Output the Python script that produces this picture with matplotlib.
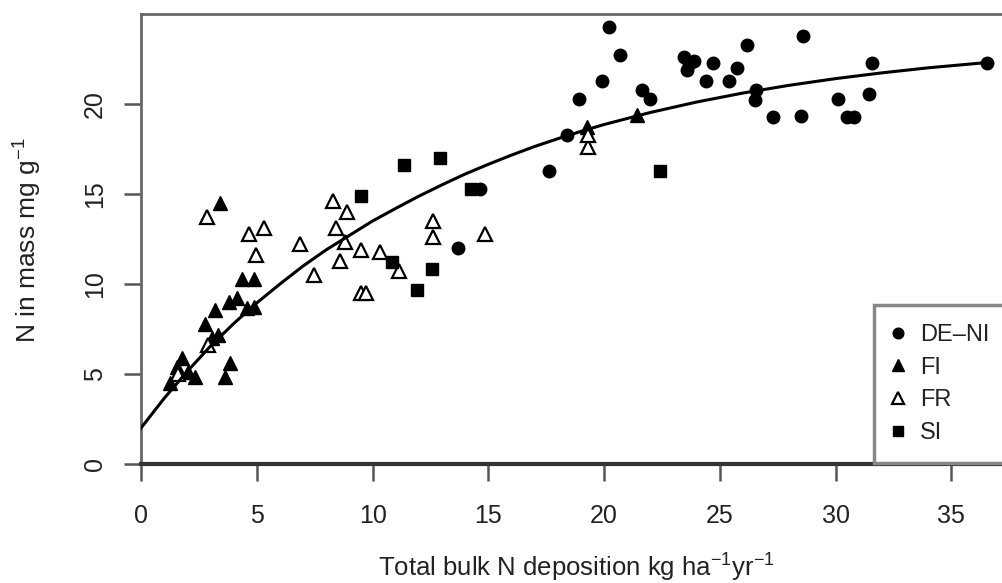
import numpy as np
import matplotlib
matplotlib.use("Agg")
import matplotlib.pyplot as plt

plt.rcParams['font.family'] = ['Liberation Sans', 'DejaVu Sans']
plt.rcParams['mathtext.fontset'] = 'custom'
plt.rcParams['mathtext.rm'] = 'Liberation Sans'
plt.rcParams['mathtext.it'] = 'Liberation Sans:italic'

# DE-NI (filled circles)
deni_x = [13.7, 14.65, 17.6, 18.4, 18.9, 19.9, 20.2, 20.7, 21.65, 22.0, 23.45, 23.6, 23.65, 23.9,
          24.4, 24.7, 25.4, 25.75, 26.15, 26.55, 26.5, 27.3, 28.5, 28.6, 30.1, 30.5, 30.8,
          31.45, 31.55, 36.55]
deni_y = [12.0, 15.25, 16.25, 18.3, 20.3, 21.3, 24.3, 22.7, 20.8, 20.3, 22.6, 21.9, 22.2, 22.4,
          21.3, 22.3, 21.3, 22.0, 23.3, 20.8, 20.2, 19.3, 19.35, 23.8, 20.3, 19.3, 19.3,
          20.55, 22.3, 22.3]

# FI (filled triangles)
fi_x = [1.25, 1.54, 1.76, 2.05, 2.33, 2.77, 3.06, 3.34, 3.2, 3.78, 4.14, 4.57, 4.86, 3.4,
        3.63, 3.85, 4.35, 4.86, 19.25, 21.4]
fi_y = [4.48, 5.4, 5.87, 5.13, 4.85, 7.8, 6.98, 7.17, 8.55, 9.0, 9.2, 8.65, 8.74, 14.5,
        4.85, 5.6, 10.3, 10.3, 18.7, 19.4]

# FR (open triangles)
fr_x = [1.6, 2.85, 2.91, 4.65, 5.3, 4.95, 6.85, 7.45, 8.3, 8.9, 8.4, 8.8, 8.6, 9.5, 10.3,
        11.15, 9.5, 9.7, 12.6, 12.6, 14.85, 19.3, 19.3]
fr_y = [5.0, 13.7, 6.6, 12.8, 13.1, 11.6, 12.25, 10.5, 14.6, 14.0, 13.1, 12.35, 11.3, 11.9, 11.8,
        10.7, 9.5, 9.5, 13.5, 12.6, 12.8, 17.6, 18.3]

# SI (filled squares)
si_x = [9.5, 11.35, 12.9, 14.25, 10.85, 12.55, 11.9, 22.4]
si_y = [14.9, 16.6, 17.0, 15.3, 11.25, 10.85, 9.65, 16.3]

# fitted curve
fit_x = [0, 1, 2, 3, 4, 5, 6, 7, 8, 9, 10, 11, 12, 13, 14, 15, 16, 17, 18, 19, 20,
         22, 24, 26, 28, 30, 32, 34, 36.5]
fit_y = [2.0, 3.65, 5.15, 6.55, 7.8, 8.95, 10.0, 11.0, 11.9, 12.7, 13.5, 14.2, 14.88, 15.51,
         16.11, 16.65, 17.16, 17.64, 18.07, 18.48, 18.86, 19.53, 20.11, 20.61, 21.04, 21.41,
         21.73, 22.01, 22.3]

xticks = [0, 5, 10, 15, 20, 25, 30, 35]
yticks = [0, 5, 10, 15, 20]

fig = plt.figure(figsize=(10.03, 5.83), dpi=100)
ax = fig.add_axes([0.1406, 0.2041, 0.868, 0.7719])

ax.plot(deni_x, deni_y, 'o', ms=9, color='black', label='DE\u2013NI', zorder=3)
ax.plot(fi_x, fi_y, '^', ms=10, color='black', label='FI', zorder=3)
ax.plot(fr_x, fr_y, '^', ms=10, mfc='white', mec='black', mew=1.6, label='FR', zorder=3)
ax.plot(si_x, si_y, 's', ms=8.5, color='black', label='SI', zorder=3)
ax.plot(fit_x, fit_y, '-', color='black', lw=2.2, zorder=4)

ax.set_xlim(0, 37.6)
ax.set_ylim(0, 25)
ax.set_xticks(xticks)
ax.set_yticks(yticks)

for s in ['left', 'top', 'right']:
    ax.spines[s].set_color('#666666')
    ax.spines[s].set_linewidth(2)
ax.spines['bottom'].set_color('#333333')
ax.spines['bottom'].set_linewidth(3)

ax.tick_params(axis='both', direction='out', length=12.5, width=1.8, color='#555555',
               labelsize=18, labelcolor='#222222')
ax.tick_params(axis='x', pad=16)
ax.tick_params(axis='y', pad=12, labelrotation=90)
for lab in ax.get_yticklabels():
    lab.set_va('center')

fig.text(576 / 1003, 1 - 568 / 583, 'Total bulk N deposition kg ha$^{-1}$yr$^{-1}$',
         ha='center', va='center', fontsize=18.5, color='#222222')
fig.text(28 / 1003, 1 - 240 / 583, 'N in mass mg g$^{-1}$', rotation=90,
         ha='center', va='center', fontsize=19, color='#222222')

leg = ax.legend(loc='upper left', bbox_to_anchor=(0.8414, 0.3533), borderaxespad=0,
                fancybox=False, framealpha=1, edgecolor='#888888', fontsize=17,
                borderpad=0.8, handlelength=0.5, handletextpad=0.68, labelspacing=0.45,
                markerscale=0.85)
leg.get_frame().set_linewidth(2.5)
for t in leg.get_texts():
    t.set_color('#222222')

fig.savefig('out.png', dpi=100)
